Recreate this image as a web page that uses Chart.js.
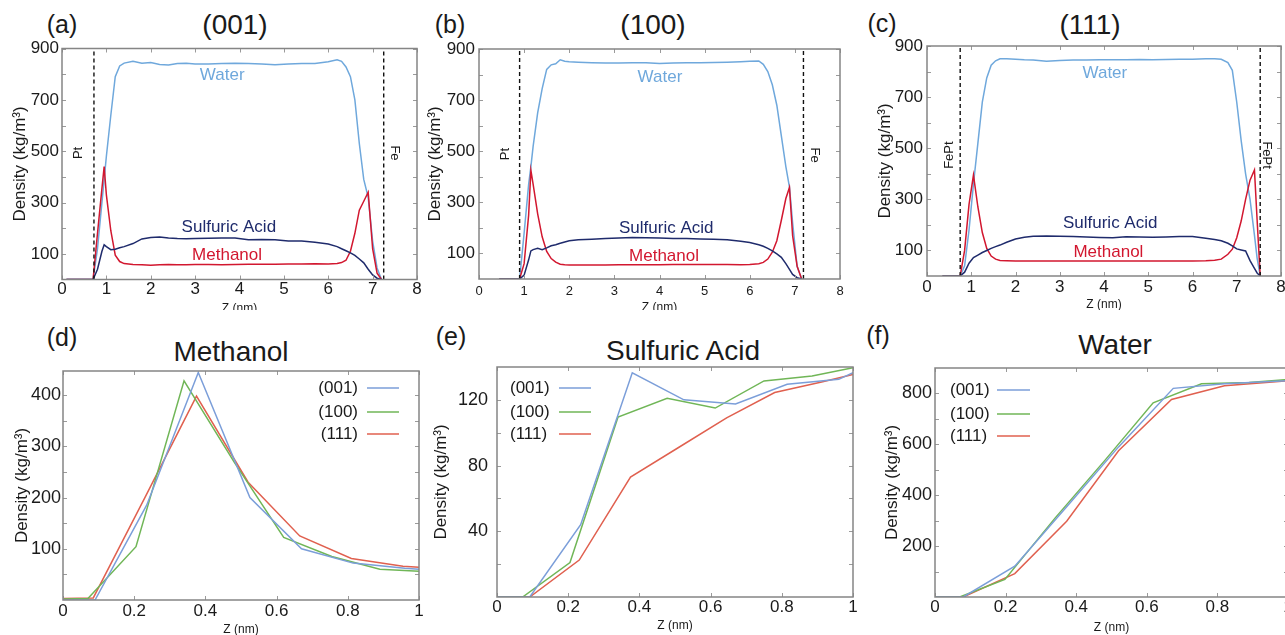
<!DOCTYPE html>
<html>
<head>
<meta charset="utf-8">
<script src="https://cdn.jsdelivr.net/npm/chart.js@4/dist/chart.umd.min.js"></script>
<style>
  body { margin: 0; background: #fff; width: 1285px; height: 635px; overflow: hidden; position: relative;
         font-family: "Liberation Sans", Arial, sans-serif; color: #1a1a1a; }
  canvas { position: absolute; }
  .txt { position: absolute; transform: translate(-50%, -50%); white-space: nowrap; line-height: 1; }
  .tag { font-size: 25px; }
  .head { font-size: 28px; }
</style>
</head>
<body>

<div class="txt tag" style="left:62px;top:24px">(a)</div>
<div class="txt tag" style="left:450px;top:24px">(b)</div>
<div class="txt tag" style="left:882px;top:23px">(c)</div>
<div class="txt tag" style="left:62px;top:337px">(d)</div>
<div class="txt tag" style="left:451px;top:336px">(e)</div>
<div class="txt tag" style="left:878px;top:335px">(f)</div>

<div class="txt head" style="left:235px;top:25px">(001)</div>
<div class="txt head" style="left:653px;top:25px">(100)</div>
<div class="txt head" style="left:1090px;top:25px">(111)</div>
<div class="txt head" style="left:231px;top:352px">Methanol</div>
<div class="txt head" style="left:683px;top:351px">Sulfuric Acid</div>
<div class="txt head" style="left:1115px;top:345px">Water</div>

<canvas id="pa" width="427" height="310" style="left:0;top:0"></canvas>
<canvas id="pb" width="429" height="310" style="left:419px;top:0"></canvas>
<canvas id="pc" width="418" height="310" style="left:867px;top:0"></canvas>
<canvas id="pd" width="431" height="317" style="left:0;top:318px"></canvas>
<canvas id="pe" width="443" height="317" style="left:420px;top:318px"></canvas>
<canvas id="pf" width="418" height="317" style="left:870px;top:318px"></canvas>

<script>
/* ---------- top row: density across the cell, one facet per panel ---------- */

// (001)
const zA = [0.1, 0.7, 0.8, 0.9, 0.95, 1.0, 1.1, 1.2, 1.3, 1.4, 1.6, 1.8, 2.0, 2.2, 2.4, 2.6, 2.8, 3.0, 3.3, 3.6,
            3.9, 4.2, 4.5, 4.8, 5.1, 5.4, 5.7, 6.0, 6.2, 6.3, 6.4, 6.5, 6.6, 6.7, 6.8, 6.9, 7.0, 7.1, 7.2];
const waterA = [0, 0, 120, 300, 390, 480, 640, 790, 832, 843, 850, 843, 845, 838, 836, 842, 843, 840, 840, 842,
                843, 842, 840, 837, 840, 842, 842, 848, 856, 850, 828, 790, 700, 530, 390, 320, 150, 45, 0];
const acidA = [0, 0, 40, 110, 135, 128, 116, 118, 124, 128, 140, 158, 164, 166, 162, 160, 159, 160, 161, 162,
               162, 155, 156, 155, 150, 150, 145, 138, 128, 120, 112, 104, 94, 80, 65, 40, 18, 5, 0];
const methA = [0, 0, 180, 355, 440, 330, 190, 95, 70, 62, 58, 57, 56, 57, 58, 57, 57, 58, 58, 57,
               58, 59, 59, 59, 60, 60, 61, 60, 62, 66, 75, 110, 180, 270, 305, 340, 120, 25, 0];
const wallsA = [0.72, 7.25];

// (100)
const zB = [0.45, 0.9, 1.0, 1.1, 1.15, 1.2, 1.3, 1.4, 1.5, 1.6, 1.7, 1.8, 1.9, 2.0, 2.2, 2.5, 2.8, 3.1, 3.4, 3.7,
            4.0, 4.3, 4.6, 4.9, 5.2, 5.5, 5.8, 6.0, 6.2, 6.3, 6.4, 6.5, 6.6, 6.7, 6.8, 6.88, 6.95, 7.05, 7.15];
const waterB = [0, 0, 180, 370, 440, 520, 650, 745, 820, 838, 842, 858, 852, 850, 848, 846, 845, 845, 846, 846,
                843, 845, 846, 846, 847, 848, 850, 852, 853, 840, 812, 760, 680, 560, 440, 360, 220, 50, 0];
const acidB = [0, 0, 15, 75, 110, 115, 120, 115, 122, 130, 134, 140, 145, 150, 154, 156, 158, 160, 162, 161,
               160, 158, 158, 157, 156, 154, 148, 143, 134, 128, 120, 110, 98, 85, 60, 38, 18, 5, 0];
const methB = [0, 0, 60, 250, 425, 370, 255, 165, 108, 80, 66, 58, 56, 55, 55, 55, 55, 56, 56, 56,
               56, 57, 57, 57, 57, 57, 56, 57, 60, 65, 78, 105, 150, 230, 315, 358, 170, 50, 0];
const wallsB = [0.9, 7.19];

// (111)
const zC = [0.35, 0.75, 0.85, 0.95, 1.05, 1.15, 1.25, 1.35, 1.45, 1.55, 1.65, 1.8, 2.0, 2.2, 2.4, 2.7, 3.0, 3.3, 3.6, 3.9,
            4.2, 4.5, 4.8, 5.1, 5.4, 5.7, 6.0, 6.3, 6.5, 6.65, 6.8, 6.9, 7.0, 7.1, 7.2, 7.3, 7.4, 7.46, 7.53];
const waterC = [0, 0, 40, 180, 360, 520, 680, 775, 825, 842, 850, 850, 848, 846, 845, 840, 843, 845, 845, 846,
                846, 846, 847, 846, 847, 848, 848, 850, 850, 848, 835, 805, 680, 530, 400, 300, 160, 70, 0];
const acidC = [0, 0, 15, 50, 72, 82, 92, 100, 108, 115, 121, 132, 145, 152, 156, 157, 156, 155, 153, 151,
               150, 154, 153, 152, 153, 155, 155, 148, 143, 138, 128, 118, 106, 102, 98, 60, 30, 12, 0];
const methC = [0, 0, 100, 280, 395, 270, 170, 108, 78, 66, 61, 60, 59, 59, 59, 59, 59, 59, 59, 59,
               59, 59, 59, 59, 59, 59, 59, 60, 62, 66, 85, 105, 150, 215, 300, 375, 415, 220, 0];
const wallsC = [0.75, 7.53];

const profileTicksX = [0, 1, 2, 3, 4, 5, 6, 7, 8];
const profileTicksY = [100, 200, 300, 400, 500, 600, 700, 800, 900];
const profileLabelsY = [100, 300, 500, 700, 900];

/* ---------- bottom row: first nanometre next to the surface, [z, density] ---------- */

const facets = ['(001)', '(100)', '(111)'];

const nearMeth001 = [[0, 0], [0.09, 0], [0.235, 185], [0.38, 444], [0.525, 200], [0.67, 100], [0.815, 72], [0.96, 62], [1.0, 60]];
const nearMeth100 = [[0, 2], [0.07, 3], [0.205, 104], [0.34, 428], [0.48, 270], [0.62, 122], [0.755, 85], [0.89, 60], [1.0, 56]];
const nearMeth111 = [[0, 3], [0.085, 4], [0.23, 200], [0.375, 398], [0.52, 230], [0.665, 125], [0.81, 81], [0.955, 66], [1.0, 64]];

const nearAcid001 = [[0, 0], [0.092, 0], [0.235, 44], [0.38, 136.5], [0.525, 120], [0.67, 117.5], [0.815, 129.5], [0.96, 132.5], [1.0, 136.5]];
const nearAcid100 = [[0, 0], [0.072, 0], [0.205, 21], [0.34, 109.5], [0.478, 121], [0.613, 115], [0.75, 131.5], [0.885, 134.5], [1.0, 139.5]];
const nearAcid111 = [[0, 0], [0.092, 0], [0.231, 22.5], [0.375, 73], [0.51, 91], [0.645, 109], [0.78, 124.5], [0.915, 131], [1.0, 135.5]];

const nearWater001 = [[0, 0], [0.08, 0], [0.226, 121], [0.37, 350], [0.52, 590], [0.675, 820], [0.82, 838], [0.965, 848], [1.0, 850]];
const nearWater100 = [[0, 0], [0.07, 0], [0.198, 69], [0.34, 310], [0.48, 535], [0.618, 763], [0.755, 838], [0.89, 843], [1.0, 855]];
const nearWater111 = [[0, 0], [0.08, 0], [0.226, 92], [0.373, 298], [0.52, 575], [0.67, 776], [0.82, 830], [0.965, 846], [1.0, 850]];

const nearTicksX = [0, 0.2, 0.4, 0.6, 0.8, 1];

/* ---------- look ---------- */

const FONT = '"Liberation Sans", Arial, sans-serif';
const INK = '#1a1a1a';
const WATER = '#6fa8dc';
const ACID = '#1f2b6c';
const METH = '#d2172f';
const FACET_COLORS = ['#7b9ed9', '#70b657', '#e0604f'];

Chart.defaults.font.family = FONT;
Chart.defaults.color = INK;

const pts = (zs, vs) => zs.map((z, i) => ({ x: z, y: vs[i] }));
const pairs = list => list.map(([x, y]) => ({ x, y }));

function profileSets(z, water, acid, meth, walls) {
    const sets = walls.map(w => ({
        data: [{ x: w, y: 0 }, { x: w, y: 900 }],
        borderColor: '#111', borderWidth: 1.4, borderDash: [4, 3]
    }));
    sets.push({ data: pts(z, acid), borderColor: ACID });
    sets.push({ data: pts(z, meth), borderColor: METH });
    sets.push({ data: pts(z, water), borderColor: WATER });
    return sets;
}

function facetSets(lists) {
    return lists.map((l, i) => ({ label: facets[i], data: pairs(l), borderColor: FACET_COLORS[i] }));
}

/* frame with small inward ticks on all four sides */
const frame = {
    id: 'frame',
    afterDatasetsDraw(chart) {
        const { ctx, chartArea: a, scales: { x, y } } = chart;
        ctx.save();
        ctx.strokeStyle = '#9a9a9a';
        ctx.lineWidth = 1;
        ctx.beginPath();
        x.ticks.forEach(t => {
            const p = Math.round(x.getPixelForValue(t.value)) + 0.5;
            ctx.moveTo(p, a.bottom); ctx.lineTo(p, a.bottom - 4);
            ctx.moveTo(p, a.top); ctx.lineTo(p, a.top + 4);
        });
        y.ticks.forEach(t => {
            const p = Math.round(y.getPixelForValue(t.value)) + 0.5;
            ctx.moveTo(a.left, p); ctx.lineTo(a.left + 4, p);
            ctx.moveTo(a.right, p); ctx.lineTo(a.right - 4, p);
        });
        ctx.stroke();
        ctx.strokeStyle = '#858585';
        ctx.lineWidth = 1.5;
        ctx.strokeRect(a.left, a.top, a.width, a.height);
        ctx.restore();
    }
};

/* text placed in data units; turn = quarter turns */
function notes(list) {
    return {
        id: 'notes',
        afterDatasetsDraw(chart) {
            const { ctx, scales: { x, y } } = chart;
            list.forEach(n => {
                ctx.save();
                ctx.translate(x.getPixelForValue(n.z), y.getPixelForValue(n.rho));
                if (n.turn) ctx.rotate(n.turn * Math.PI / 2);
                ctx.font = `${n.size}px ${FONT}`;
                ctx.fillStyle = n.color;
                ctx.textAlign = 'center';
                ctx.textBaseline = 'middle';
                ctx.fillText(n.text, 0, 0);
                ctx.restore();
            });
        }
    };
}

/* legend: label text followed by a short line sample */
function key(spot) {
    return {
        id: 'key',
        afterDatasetsDraw(chart) {
            const { ctx, chartArea: a } = chart;
            const base = spot.side === 'right' ? a.right : a.left;
            ctx.save();
            ctx.font = `17px ${FONT}`;
            ctx.textBaseline = 'middle';
            ctx.textAlign = spot.side === 'right' ? 'right' : 'left';
            chart.data.datasets.forEach((ds, i) => {
                const yy = a.top + spot.rows[i];
                ctx.fillStyle = INK;
                ctx.fillText(ds.label, base + spot.text, yy);
                ctx.strokeStyle = ds.borderColor;
                ctx.lineWidth = 1.5;
                ctx.beginPath();
                ctx.moveTo(base + spot.line[0], yy);
                ctx.lineTo(base + spot.line[1], yy);
                ctx.stroke();
            });
            ctx.restore();
        }
    };
}

function panel(id, o) {
    return new Chart(document.getElementById(id), {
        type: 'line',
        data: { datasets: o.datasets },
        options: {
            responsive: false,
            animation: false,
            layout: { padding: { top: o.padTop, right: o.padRight, left: 0, bottom: 0 } },
            elements: { point: { radius: 0 }, line: { borderWidth: 1.5, tension: 0 } },
            plugins: { legend: { display: false }, tooltip: { enabled: false } },
            scales: {
                x: {
                    type: 'linear', min: o.xMin, max: o.xMax,
                    grid: { display: false, drawTicks: false },
                    border: { display: false },
                    afterBuildTicks: s => { s.ticks = o.xTicks.map(v => ({ value: v })); },
                    afterFit: s => { s.height = o.xh; s.paddingLeft = 0; s.paddingRight = 0; },
                    ticks: {
                        autoSkip: false, maxRotation: 0, padding: o.xTickPad, color: INK,
                        font: { size: o.xTickSize },
                        callback: v => String(v)
                    },
                    title: {
                        display: true, text: 'Z (nm)', color: INK, font: { size: 12 },
                        padding: { top: 0, bottom: o.xTitlePad }
                    }
                },
                y: {
                    min: 0, max: o.yMax,
                    grid: { display: false, drawTicks: false },
                    border: { display: false },
                    afterBuildTicks: s => { s.ticks = o.yTicks.map(v => ({ value: v })); },
                    afterFit: s => { s.width = o.yw; s.paddingTop = 0; s.paddingBottom = 0; },
                    ticks: {
                        autoSkip: false, padding: o.yTickPad, color: INK,
                        font: { size: o.yTickSize },
                        callback: v => o.yLabels.includes(v) ? String(v) : ''
                    },
                    title: {
                        display: true, text: 'Density (kg/m³)', color: INK, font: { size: 17 },
                        padding: { top: o.yTitlePad, bottom: 0 }
                    }
                }
            }
        },
        plugins: [frame, ...(o.extra || [])]
    });
}

/* ---------- top row ---------- */

const profileAxes = {
    xMin: 0, xMax: 8, yMax: 900,
    xTicks: profileTicksX, yTicks: profileTicksY, yLabels: profileLabelsY,
    yTickSize: 17
};

panel('pa', {
    ...profileAxes,
    datasets: profileSets(zA, waterA, acidA, methA, wallsA),
    padTop: 48.5, padRight: 10, yw: 62, xh: 30.5,
    xTickSize: 17, xTickPad: 0, xTitlePad: -6, yTickPad: 3, yTitlePad: 10,
    extra: [notes([
        { text: 'Water', z: 3.61, rho: 797, color: WATER, size: 17 },
        { text: 'Sulfuric Acid', z: 3.76, rho: 204, color: ACID, size: 17 },
        { text: 'Methanol', z: 3.72, rho: 95, color: METH, size: 17 },
        { text: 'Pt', z: 0.36, rho: 493, color: INK, size: 13, turn: -1 },
        { text: 'Fe', z: 7.5, rho: 493, color: INK, size: 13, turn: 1 }
    ])]
});

panel('pb', {
    ...profileAxes,
    datasets: profileSets(zB, waterB, acidB, methB, wallsB),
    padTop: 49, padRight: 8, yw: 60, xh: 31,
    xTickSize: 13, xTickPad: 5, xTitlePad: -5, yTickPad: 4, yTitlePad: 6,
    extra: [notes([
        { text: 'Water', z: 4.01, rho: 790, color: WATER, size: 17 },
        { text: 'Sulfuric Acid', z: 4.15, rho: 200, color: ACID, size: 17 },
        { text: 'Methanol', z: 4.1, rho: 90, color: METH, size: 17 },
        { text: 'Pt', z: 0.58, rho: 489, color: INK, size: 13, turn: -1 },
        { text: 'Fe', z: 7.43, rho: 485, color: INK, size: 13, turn: 1 }
    ])]
});

panel('pc', {
    ...profileAxes,
    datasets: profileSets(zC, waterC, acidC, methC, wallsC),
    padTop: 46, padRight: 4, yw: 60, xh: 34,
    xTickSize: 17, xTickPad: 1, xTitlePad: -2, yTickPad: 4, yTitlePad: 8,
    extra: [notes([
        { text: 'Water', z: 4.02, rho: 794, color: WATER, size: 17 },
        { text: 'Sulfuric Acid', z: 4.14, rho: 207, color: ACID, size: 17 },
        { text: 'Methanol', z: 4.1, rho: 94, color: METH, size: 17 },
        { text: 'FePt', z: 0.5, rho: 473, color: INK, size: 13, turn: -1 },
        { text: 'FePt', z: 7.68, rho: 473, color: INK, size: 13, turn: 1 }
    ])]
});

/* ---------- bottom row ---------- */

const nearAxes = { xMin: 0, xMax: 1, xTicks: nearTicksX, xTickSize: 17, yTickSize: 18 };

panel('pd', {
    ...nearAxes,
    datasets: facetSets([nearMeth001, nearMeth100, nearMeth111]),
    yMax: 447, yTicks: [50, 100, 150, 200, 250, 300, 350, 400], yLabels: [100, 200, 300, 400],
    padTop: 53, padRight: 12, yw: 63, xh: 35,
    xTickPad: 1, xTitlePad: -2, yTickPad: 2, yTitlePad: 12,
    extra: [key({ side: 'right', text: -61, line: [-52, -20], rows: [17, 41, 63] })]
});

panel('pe', {
    ...nearAxes,
    datasets: facetSets([nearAcid001, nearAcid100, nearAcid111]),
    yMax: 140, yTicks: [20, 40, 60, 80, 100, 120], yLabels: [40, 80, 120],
    padTop: 49, padRight: 10, yw: 77, xh: 38,
    xTickPad: 0, xTitlePad: 2, yTickPad: 9, yTitlePad: 11,
    extra: [key({ side: 'left', text: 13, line: [62, 94], rows: [21, 45, 67] })]
});

panel('pf', {
    ...nearAxes,
    datasets: facetSets([nearWater001, nearWater100, nearWater111]),
    yMax: 900, yTicks: [100, 200, 300, 400, 500, 600, 700, 800], yLabels: [200, 400, 600, 800],
    padTop: 50, padRight: 0, yw: 65, xh: 38,
    xTickPad: 0, xTitlePad: 0, yTickPad: 3, yTitlePad: 12,
    extra: [key({ side: 'left', text: 15, line: [62, 95], rows: [22, 46, 68] })]
});
</script>
</body>
</html>
